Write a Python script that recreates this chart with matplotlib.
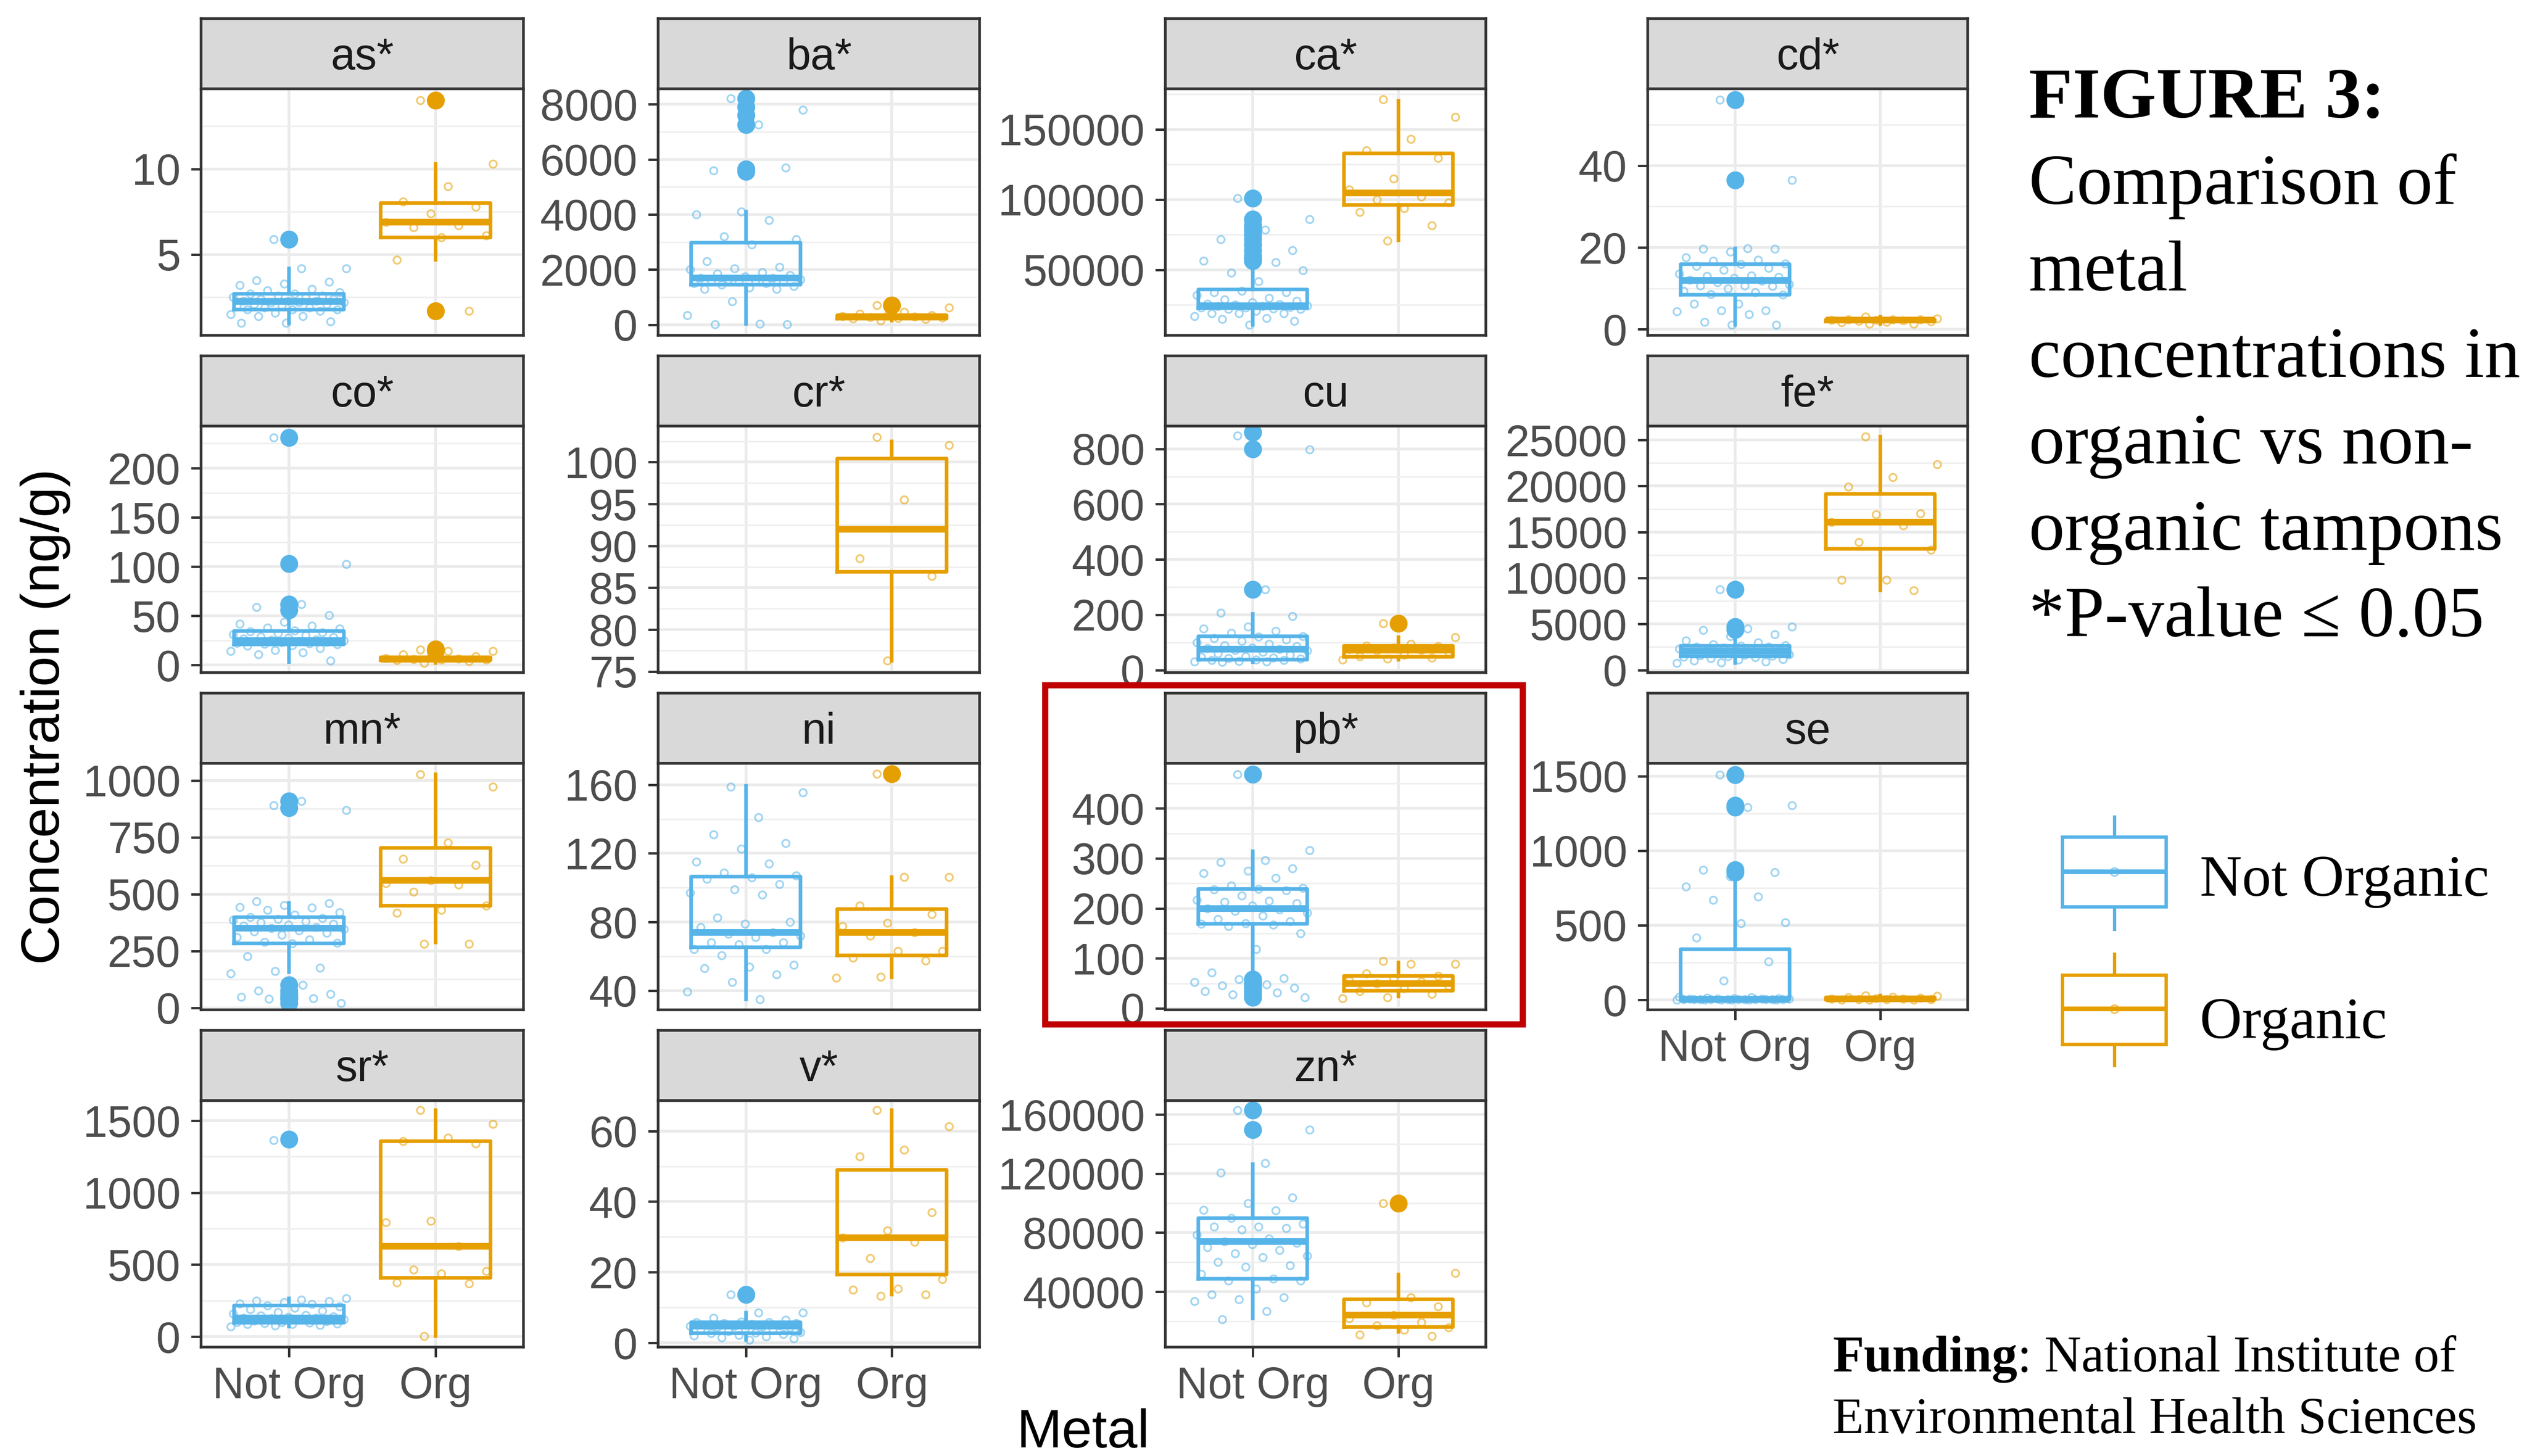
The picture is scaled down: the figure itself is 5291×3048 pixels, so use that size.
import matplotlib
matplotlib.use("Agg")
import matplotlib.pyplot as plt
from matplotlib.patches import Rectangle
from matplotlib.ticker import MultipleLocator, FuncFormatter

# ---------------- data ----------------
metals = ["as*", "ba*", "ca*", "cd*", "co*", "cr*", "cu", "fe*",
          "mn*", "ni", "pb*", "se", "sr*", "v*", "zn*"]
groups = ["Not Org", "Org"]
legend_labels = ["Not Organic", "Organic"]

# box summaries: [whisker low, Q1, median, Q3, whisker high]
box_not_org = [
    [0.97, 1.8, 2.25, 2.7, 4.2],
    [30, 1450, 1700, 2980, 4100],
    [10900, 22700, 24500, 35900, 52300],
    [1.1, 8.4, 11.9, 15.9, 19.8],
    [3.2, 21, 25, 34.5, 46.4],
    None,
    [29, 37, 75.7, 122, 203],
    [765, 1461, 2040, 2620, 4010],
    [156, 283, 351, 398, 462],
    [35, 65.3, 74, 106.5, 159.4],
    [72, 169, 200, 239, 314],
    [0, 2, 5, 340, 826],
    [71, 95, 130, 215, 264],
    [0.8, 2.7, 4.7, 5.9, 8.6],
    [21800, 48800, 74100, 89700, 126250],
]
box_org = [
    [4.7, 6.0, 6.9, 8.0, 10.3],
    [150, 230, 290, 340, 480],
    [71100, 96100, 104700, 133100, 170500],
    [1.3, 1.9, 2.2, 2.4, 3.1],
    [2.0, 5.0, 6.0, 8.0, 11.0],
    [76.3, 86.9, 92.0, 100.4, 102.5],
    [37, 48.6, 71.8, 87, 118],
    [8650, 13170, 16070, 19130, 25350],
    [288, 450, 561, 703, 1028],
    [47.75, 60.6, 74, 87.5, 106.25],
    [24, 35, 50, 65, 92],
    [0, 3, 8, 15, 30],
    [4, 408, 629, 1357, 1573],
    [13.7, 19.4, 29.8, 49, 65.9],
    [12800, 16000, 24100, 34750, 51800],
]
out_not_org = [
    [5.9],
    [8200, 7900, 7600, 7250, 5650, 5550],
    [101000, 86000, 82000, 78500, 75000, 71900, 68000, 64100, 60000, 58600, 56300],
    [56.1, 36.5],
    [231, 103, 62, 56],
    [],
    [860, 800, 292],
    [8766, 4700, 4400],
    [910, 880, 100, 75, 61, 52, 47, 42, 38, 20],
    [],
    [468, 58, 52, 46, 40, 34, 28, 22],
    [1508, 1304, 1290, 870, 855],
    [1370],
    [13.7],
    [162800, 149700],
]
out_org = [
    [14.0, 1.7], [700], [], [], [16, 14.5], [], [168], [], [], [166.25],
    [], [], [], [], [100000],
]

# raw measurements (jittered points)
as_not = [5.9, 4.2, 4.2, 3.5, 3.4, 3.3, 3.2, 3.0, 2.9, 2.8, 2.7, 2.7, 2.6, 2.6, 2.5, 2.5,
          2.4, 2.4, 2.3, 2.3, 2.3, 2.2, 2.2, 2.2, 2.1, 2.1, 2.0, 2.0, 1.9, 1.9, 1.8, 1.8,
          1.8, 1.7, 1.6, 1.5, 1.4, 1.4, 1.1, 1.0, 1.0]
as_org = [14.0, 10.3, 9.0, 8.1, 7.8, 7.4, 6.9, 6.7, 6.6, 6.1, 6.0, 4.7, 1.7]
ba_not = [8200, 7800, 7250, 5600, 5700, 4100, 4000, 3800, 3200, 3100, 2900, 2300, 2100,
          2050, 2000, 1900, 1850, 1800, 1750, 1700, 1700, 1650, 1650, 1600, 1600, 1550,
          1550, 1500, 1500, 1450, 1400, 1350, 1300, 1300, 850, 350, 30, 20, 10]
ba_org = [700, 630, 460, 400, 350, 330, 310, 290, 280, 260, 240, 220, 200, 150]
ca_not = [101000, 86000, 78500, 71900, 64100, 58600, 56300, 55600, 48000, 49600, 41700,
          33900, 33900, 35000, 32000, 30000, 29000, 28000, 27000, 26000, 25500, 25000,
          24500, 24000, 24000, 23500, 23000, 23000, 22500, 22000, 22000, 20900, 19000,
          19000, 19000, 16900, 15500, 14800, 13600, 10900]
ca_org = [171400, 158700, 143100, 135000, 129700, 114900, 107000, 102000, 100000, 98000,
          94000, 91000, 81600, 70600]
cd_not = [56.1, 36.5, 19.8, 19.6, 19.6, 18.9, 17.5, 17.0, 16.7, 16.0, 15.9, 15.5, 15.0,
          14.5, 13.6, 13.1, 13.0, 12.8, 12.5, 12.0, 11.8, 11.5, 11.0, 10.7, 10.7, 10.5,
          10.0, 9.4, 9.0, 8.6, 8.4, 6.2, 6.2, 4.6, 4.6, 4.3, 3.7, 1.8, 1.1, 1.1]
cd_org = [3.1, 2.6, 2.4, 2.4, 2.3, 2.2, 2.2, 2.1, 2.0, 1.9, 1.8, 1.6, 1.3, 1.3]
co_not = [231, 102.5, 62, 59, 50.7, 44, 42, 40, 37.8, 37, 35, 34, 33, 32, 31, 30, 29,
          28.5, 28, 27, 26, 25.5, 25, 24.5, 24, 23.5, 23, 22.5, 22, 21.5, 21, 20, 19.4,
          17.3, 15.1, 14, 13, 10.8, 4.3]
co_org = [15.5, 14, 14, 11, 9, 8, 7, 6.5, 6, 5.5, 5.4, 5, 4, 2.2]
cr_not = []
cr_org = [103.0, 102.0, 95.5, 88.5, 86.4, 76.3]
cu_not = [848, 798, 292, 207, 195, 157, 150, 141, 135, 122, 120, 115, 110, 105, 100, 95,
          90, 85, 80, 78, 75, 72, 70, 65, 60, 55, 50, 48, 45, 42, 40, 38, 36, 35, 33, 31,
          30, 29]
cu_org = [168, 118, 95, 88, 85, 80, 75, 72, 70, 65, 55, 50, 45, 40, 37]
fe_not = [8766, 4700, 4476, 4360, 3896, 3664, 3200, 3000, 2800, 2700, 2620, 2550, 2500,
          2400, 2300, 2200, 2100, 2050, 2000, 1950, 1900, 1800, 1700, 1650, 1600, 1550,
          1500, 1450, 1400, 1300, 1200, 1100, 1000, 900, 800, 765]
fe_org = [25350, 22330, 20940, 19900, 17000, 16880, 16070, 15720, 13870, 13060, 9810,
          9810, 8650]
mn_not = [891, 870, 910, 467, 460, 451, 443, 440, 430, 420, 410, 398, 395, 390, 385, 380,
          375, 370, 365, 360, 355, 350, 345, 340, 335, 330, 320, 310, 300, 290, 285, 283,
          226, 175, 160, 151, 100, 75, 61, 52, 47, 42, 38, 20]
mn_org = [1028, 972, 726, 656, 627, 561, 547, 542, 509, 450, 429, 418, 281, 281]
ni_not = [158.75, 155.6, 141, 131, 126, 122.5, 115, 114, 108.75, 107, 106, 105, 102, 99,
          97, 96, 82.5, 80, 79, 77, 74, 73, 72, 71, 68, 68, 67, 64, 64, 60.6, 55, 53.75,
          53, 49.4, 45, 39.4, 35]
ni_org = [166.25, 106.25, 106.25, 89.4, 84.4, 79.4, 77.5, 74, 72, 63, 63, 59, 57.5, 48,
          47.5]
pb_not = [468, 316, 296, 292, 280, 275, 270, 261, 245, 241, 239, 238, 236, 225, 217, 215,
          213, 210, 205, 200, 198, 195, 191, 185, 179, 174, 170, 169, 167, 164, 150, 118,
          72, 60, 58, 52, 48, 46, 41, 40, 34, 31, 28, 22]
pb_org = [94, 89, 89, 70, 65, 60, 55, 53, 50, 45, 40, 34, 29, 22, 20]
se_not = [1508, 1304, 1290, 870, 855, 826, 759, 692, 670, 520, 511, 416, 256, 127, 20,
          15, 12, 10, 10, 8, 8, 6, 6, 5, 5, 5, 4, 4, 3, 3, 3, 2, 2, 2, 1, 1, 1, 0, 0, 0]
se_org = [30, 25, 20, 15, 12, 10, 8, 6, 5, 3, 2, 1, 0, 0]
sr_not = [1365, 264, 255, 250, 245, 240, 230, 225, 215, 210, 200, 190, 180, 170, 160, 150,
          145, 140, 135, 130, 128, 125, 120, 115, 110, 105, 100, 98, 95, 92, 90, 88, 85,
          80, 75, 71]
sr_org = [1573, 1476, 1380, 1357, 1342, 803, 793, 629, 466, 456, 437, 375, 370, 4]
v_not = [13.7, 8.6, 8.6, 7.0, 6.5, 6.0, 5.9, 5.8, 5.6, 5.5, 5.3, 5.0, 4.9, 4.8, 4.7, 4.6,
         4.5, 4.3, 4.0, 3.8, 3.5, 3.3, 3.0, 2.8, 2.7, 2.5, 2.2, 2.0, 1.8, 1.5, 1.2, 0.8]
v_org = [65.9, 61.3, 54.7, 52.8, 37, 31.8, 29.8, 28.6, 23.9, 18, 15.3, 15, 13.7, 13.3]
zn_not = [162800, 149700, 127000, 120600, 103750, 100000, 95300, 95000, 89700, 86000,
          84000, 84000, 83000, 82000, 78400, 76000, 74100, 73000, 71900, 70000, 68100,
          66000, 64400, 63400, 60000, 57800, 57000, 52000, 48800, 47500, 47500, 41900,
          38100, 36250, 35000, 33400, 26900, 21300]
zn_org = [100000, 52600, 36250, 32500, 30000, 24100, 22000, 19400, 17000, 15600, 14000,
          11000, 10000]

pts_not_org = [as_not, ba_not, ca_not, cd_not, co_not, cr_not, cu_not, fe_not,
               mn_not, ni_not, pb_not, se_not, sr_not, v_not, zn_not]
pts_org = [as_org, ba_org, ca_org, cd_org, co_org, cr_org, cu_org, fe_org,
           mn_org, ni_org, pb_org, se_org, sr_org, v_org, zn_org]

# y scale per panel (limits and major break step)
y_limits = [(0.28, 14.68), (-383, 8555), (3400, 178900), (-1.5, 58.8), (-7.6, 242.7),
            (74.87, 104.3), (-9.3, 882.6), (-278, 26506), (-9.4, 1075.5), (28.75, 172.5),
            (-3, 490), (-67, 1585), (-73, 1640), (-1.2, 68.6), (2500, 169400)]
y_steps = [5, 2000, 50000, 20, 50, 5, 200, 5000, 250, 40, 100, 500, 500, 20, 40000]

# ---------------- styling / layout ----------------
W, H, DPI = 5291, 3048, 200
BLUE, ORANGE = "#56B4E9", "#E69F00"
COLORS = [BLUE, ORANGE]
SANS = ["Liberation Sans", "DejaVu Sans"]
SERIF = ["Liberation Serif", "DejaVu Serif"]
plt.rcParams["font.family"] = SANS

col_x = [(421, 1096), (1378, 2051), (2440, 3111), (3450, 4120)]
row_top = [39, 745, 1451, 2157]
STRIP_H, PANEL_H = 147, 516
bottom_panels = {11, 12, 13, 14}
BOX_LW, MED_LW = 2.7, 5.0

fig = plt.figure(figsize=(W / DPI, H / DPI), dpi=DPI, facecolor="white")


def fig_rect(x0, y0, x1, y1):
    return [x0 / W, 1 - y1 / H, (x1 - x0) / W, (y1 - y0) / H]


def jitter(n, width=0.4):
    return [((k * 0.6180339887 + 0.37) % 1.0 - 0.5) * 2 * width for k in range(n)]


fmt = FuncFormatter(lambda v, p: f"{v:g}")

for i, m in enumerate(metals):
    r, c = divmod(i, 4)
    x0, x1 = col_x[c]
    st = row_top[r]
    sb = st + STRIP_H
    pbot = sb + PANEL_H

    sax = fig.add_axes(fig_rect(x0, st, x1, sb))
    sax.set_facecolor("#D9D9D9")
    sax.set_xticks([]); sax.set_yticks([])
    for s in sax.spines.values():
        s.set_color("#333333"); s.set_linewidth(2.0)
    sax.text(0.5, 41 / STRIP_H, m, transform=sax.transAxes, ha="center", va="baseline",
             fontsize=33, color="#1A1A1A")

    ax = fig.add_axes(fig_rect(x0, sb, x1, pbot))
    ax.set_facecolor("white")
    ax.set_xlim(0.4, 2.6)
    ax.set_ylim(*y_limits[i])
    ax.yaxis.set_major_locator(MultipleLocator(y_steps[i]))
    ax.yaxis.set_minor_locator(MultipleLocator(y_steps[i] / 2))
    ax.yaxis.set_major_formatter(fmt)
    ax.set_xticks([1, 2])
    ax.set_axisbelow(True)
    ax.grid(which="major", color="#EBEBEB", linewidth=2.1)
    ax.grid(which="minor", axis="y", color="#EFEFEF", linewidth=1.2)
    for s in ax.spines.values():
        s.set_color("#333333"); s.set_linewidth(2.0); s.set_zorder(5)
    ax.tick_params(axis="y", which="major", length=7.5, width=1.8, color="#333333",
                   labelsize=33, labelcolor="#4D4D4D", pad=8)
    ax.tick_params(axis="y", which="minor", length=0)
    if i in bottom_panels:
        ax.set_xticklabels(groups)
        ax.tick_params(axis="x", length=7.5, width=1.8, color="#333333",
                       labelsize=33, labelcolor="#4D4D4D", pad=7)
    else:
        ax.set_xticklabels([])
        ax.tick_params(axis="x", length=0)

    boxes = [box_not_org[i], box_org[i]]
    outs = [out_not_org[i], out_org[i]]
    pts = [pts_not_org[i], pts_org[i]]
    for g in range(2):
        col = COLORS[g]
        if boxes[g] is not None:
            lo, q1, med, q3, hi = boxes[g]
            stats = [dict(whislo=lo, q1=q1, med=med, q3=q3, whishi=hi, fliers=outs[g])]
            ax.bxp(stats, positions=[g + 1], widths=0.75, showcaps=False,
                   manage_ticks=False,
                   boxprops=dict(color=col, linewidth=BOX_LW),
                   whiskerprops=dict(color=col, linewidth=BOX_LW),
                   medianprops=dict(color=col, linewidth=MED_LW, solid_capstyle="butt"),
                   flierprops=dict(marker="o", markerfacecolor=col, markeredgecolor=col,
                                   markersize=12.5, linestyle="none"),
                   zorder=2)
        if pts[g]:
            xs = [g + 1 + d for d in jitter(len(pts[g]))]
            ax.plot(xs, pts[g], linestyle="none", marker="o", markersize=5.5,
                    markerfacecolor="none", markeredgecolor=col, markeredgewidth=1.3,
                    alpha=0.55, zorder=3)

# ---------------- overlay: titles, legend, annotations ----------------
ov = fig.add_axes([0, 0, 1, 1])
ov.set_xlim(0, W); ov.set_ylim(H, 0)
ov.axis("off")
ov.patch.set_alpha(0)

ov.text(95, 1500, "Concentration (ng/g)", rotation=90, ha="center", va="center",
        fontsize=41, color="black")
ov.text(2268, 3030, "Metal", ha="center", va="baseline", fontsize=41, color="black")

# red highlight around pb panel
ov.add_patch(Rectangle((2188, 1434), 1000, 710, fill=False, edgecolor="#C00000",
                       linewidth=4.7, zorder=10))

# legend keys
key_boxes = [(1752, 1898, 1710, 1945, 1825), (2041, 2186, 1997, 2230, 2112)]
kx0, kx1 = 4318, 4535
kxc = (kx0 + kx1) / 2
for g, (bt, bb, wt, wb, md) in enumerate(key_boxes):
    col = COLORS[g]
    ov.add_patch(Rectangle((kx0, bt), kx1 - kx0, bb - bt, fill=False, edgecolor=col,
                           linewidth=2.5))
    ov.plot([kxc, kxc], [wt, bt], color=col, linewidth=2.5)
    ov.plot([kxc, kxc], [bb, wb], color=col, linewidth=2.5)
    ov.plot([kx0, kx1], [md, md], color=col, linewidth=3.5, solid_capstyle="butt")
    ov.plot([kxc], [md], marker="o", markersize=6, markerfacecolor="none",
            markeredgecolor=col, markeredgewidth=1.3, alpha=0.6)
ov.text(4606, 1875, legend_labels[0], ha="left", va="baseline", fontsize=44,
        family=SERIF, color="black")
ov.text(4606, 2173, legend_labels[1], ha="left", va="baseline", fontsize=44,
        family=SERIF, color="black")

# figure caption
caption = ["Comparison of", "metal", "concentrations in", "organic vs non-",
           "organic tampons", "*P-value \u2264 0.05"]
ov.text(4248, 246, "FIGURE 3:", ha="left", va="baseline", fontsize=54,
        family=SERIF, fontweight="bold", color="black")
for k, line in enumerate(caption):
    ov.text(4248, 246 + 181 * (k + 1), line, ha="left", va="baseline", fontsize=54,
            family=SERIF, color="black")

# funding note
renderer = fig.canvas.get_renderer()
t1 = ov.text(3837, 2871, "Funding", ha="left", va="baseline", fontsize=38.5,
             family=SERIF, fontweight="bold", color="black")
bb = t1.get_window_extent(renderer=renderer)
ov.text(bb.x1, 2871, ": National Institute of", ha="left", va="baseline",
        fontsize=38.5, family=SERIF, color="black")
ov.text(3837, 3000, "Environmental Health Sciences", ha="left", va="baseline",
        fontsize=38.5, family=SERIF, color="black")

fig.savefig("out.png", dpi=DPI, facecolor="white")
